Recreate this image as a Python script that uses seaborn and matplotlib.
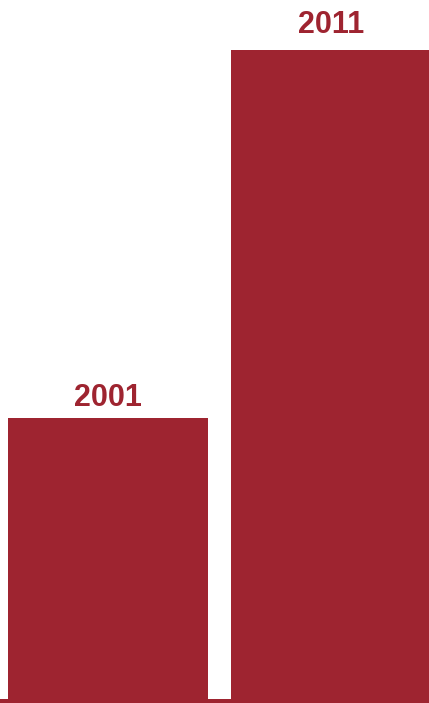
import matplotlib
matplotlib.use("Agg")
import matplotlib.pyplot as plt
import seaborn as sns

# Data
years = ["2001", "2011"]
values = [2.6, 6.0]

BAR_COLOR = "#9E2430"
LABEL_PAD = [12, 17]  # px gap between bar top and label baseline

sns.set_theme(style="white")
plt.rcParams['font.family'] = ['Liberation Sans', 'DejaVu Sans']

fig = plt.figure(figsize=(4.29, 7.03), dpi=100)
ax = fig.add_axes([0, 0, 1, 1])

sns.barplot(x=years, y=values, color=BAR_COLOR, saturation=1, width=0.897,
            linewidth=0, edgecolor="none", ax=ax)

# axis ranges so the bars sit like in the reference
px_per_unit = 649 / max(values)
y0 = -4 / px_per_unit
ax.set_ylim(y0, 699 / px_per_unit)
ax.set_xlim(-0.484, 1.4395)

# baseline strip under bars
ax.axhspan(y0, 0, color=BAR_COLOR, lw=0)

for i, (yr, v) in enumerate(zip(years, values)):
    ax.annotate(yr, xy=(i, v), xytext=(0, LABEL_PAD[i] * 0.72), textcoords="offset points",
                ha="center", va="baseline", fontsize=22, fontweight="bold", color=BAR_COLOR)

ax.axis("off")
fig.savefig("out.png", dpi=100)
